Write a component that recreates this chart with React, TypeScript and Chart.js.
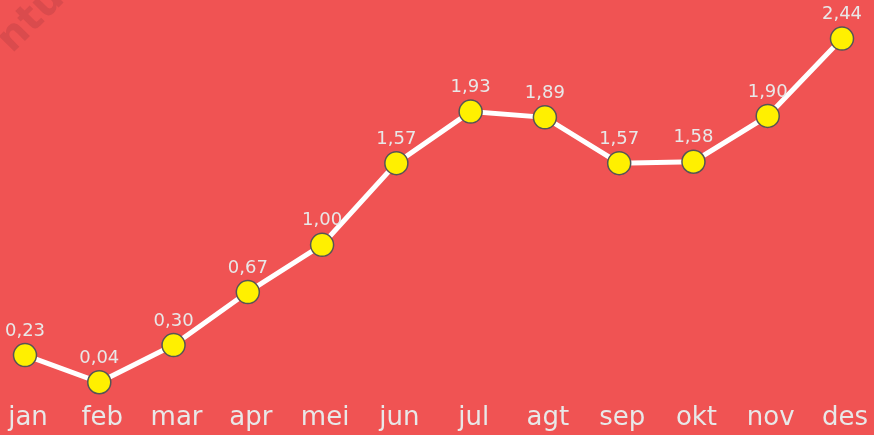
import React, { useEffect, useRef } from "react";
import { Chart, registerables } from "chart.js";

Chart.register(...registerables);

const months = ["jan", "feb", "mar", "apr", "mei", "jun", "jul", "agt", "sep", "okt", "nov", "des"];
const values = [0.23, 0.04, 0.3, 0.67, 1.0, 1.57, 1.93, 1.89, 1.57, 1.58, 1.9, 2.44];

const BG = "#F05353";
const TEXT = "#E8E8E8";
const FONT = "'DejaVu Sans', sans-serif";

const bgPlugin = {
  id: "bgPlugin",
  beforeDraw(chart: any) {
    const ctx = chart.ctx;
    ctx.save();
    ctx.fillStyle = BG;
    ctx.fillRect(0, 0, chart.width, chart.height);
    ctx.translate(12, 54);
    ctx.rotate(-Math.PI / 4);
    ctx.fillStyle = "#DA4B4D";
    ctx.font = `bold 40px ${FONT}`;
    ctx.textBaseline = "alphabetic";
    ctx.fillText("ntuk", 0, 0);
    ctx.restore();
  },
};

const labelPlugin = {
  id: "labelPlugin",
  afterDatasetsDraw(chart: any) {
    const ctx = chart.ctx;
    const meta = chart.getDatasetMeta(0);
    const xScale = chart.scales.x;
    ctx.save();
    ctx.fillStyle = TEXT;
    ctx.textAlign = "center";
    ctx.textBaseline = "middle";
    ctx.font = `18px ${FONT}`;
    meta.data.forEach((pt: any, i: number) => {
      const v = values[i].toFixed(2).replace(".", ",");
      ctx.fillText(v, pt.x, pt.y - 24);
    });
    ctx.font = `26px ${FONT}`;
    months.forEach((m, i) => {
      ctx.fillText(m, xScale.getPixelForValue(i) + 3, chart.chartArea.bottom + 30);
    });
    ctx.restore();
  },
};

export default function App() {
  const ref = useRef<HTMLCanvasElement | null>(null);
  useEffect(() => {
    document.body.style.margin = "0";
    document.body.style.background = BG;
    const chart = new Chart(ref.current as HTMLCanvasElement, {
      type: "line",
      data: {
        labels: months,
        datasets: [
          {
            data: values,
            borderColor: "#FFFFFF",
            borderWidth: 5,
            pointRadius: 11.5,
            pointBackgroundColor: "#FFF000",
            pointBorderColor: "#555555",
            pointBorderWidth: 1.5,
            tension: 0,
            clip: false,
          },
        ],
      },
      options: {
        animation: false,
        responsive: false,
        layout: { padding: { left: 25, right: 32, top: 30, bottom: 47 } },
        plugins: { legend: { display: false }, tooltip: { enabled: false } },
        scales: {
          x: { display: false, offset: false },
          y: { display: false, min: 0, max: 2.5 },
        },
      },
      plugins: [bgPlugin, labelPlugin],
    });
    return () => chart.destroy();
  }, []);
  return <canvas ref={ref} width={874} height={435} style={{ display: "block" }} />;
}
